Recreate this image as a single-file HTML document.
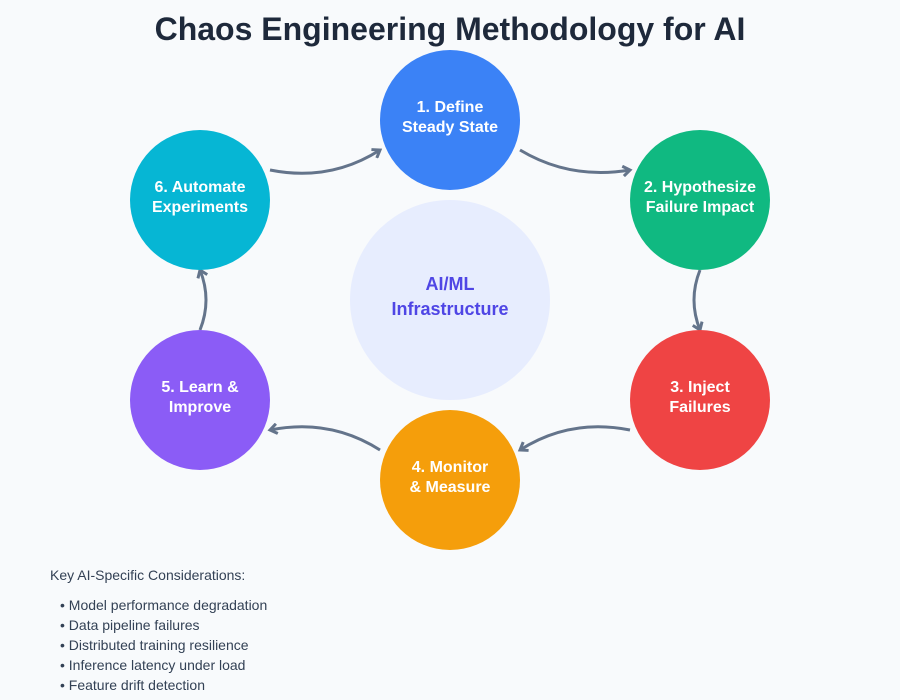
<!DOCTYPE html>
<html><head><meta charset="utf-8"><style>
html,body{margin:0;padding:0;}
body{width:900px;height:700px;background:#f8fafc;overflow:hidden;position:relative;font-family:"Liberation Sans",sans-serif;}
</style></head><body>
<svg width="900" height="700" viewBox="0 0 900 700" xmlns="http://www.w3.org/2000/svg" style="position:absolute;left:0;top:0">
<defs>
<marker id="a" viewBox="0 0 12 12" refX="9" refY="6" markerWidth="12" markerHeight="12" markerUnits="userSpaceOnUse" orient="auto">
<polyline points="2,1 9,6 2,11" fill="none" stroke="#64748b" stroke-width="3"/>
</marker>
</defs>
<text x="450" y="40" text-anchor="middle" font-size="32" font-weight="bold" fill="#1e293b">Chaos Engineering Methodology for AI</text>
<circle cx="450" cy="300" r="100" fill="#e0e7ff" opacity="0.7"/>
<text x="450" y="290" text-anchor="middle" font-size="18" font-weight="bold" fill="#4f46e5">AI/ML</text>
<text x="450" y="315" text-anchor="middle" font-size="18" font-weight="bold" fill="#4f46e5">Infrastructure</text>
<g fill="none" stroke="#64748b" stroke-width="3" marker-end="url(#a)">
<path d="M270,170 Q330,182 380,150"/>
<path d="M520,150 Q570,180 630,170"/>
<path d="M700,270 Q688,300 700,330"/>
<path d="M630,430 Q570,418 520,450"/>
<path d="M380,450 Q330,418 270,430"/>
<path d="M200,330 Q212,300 200,270"/>
</g>
<g font-size="16" font-weight="bold" fill="#fff" text-anchor="middle">
<circle cx="450" cy="120" r="70" fill="#3b82f6"/>
<text x="450" y="112">1. Define</text><text x="450" y="132">Steady State</text>
<circle cx="700" cy="200" r="70" fill="#10b981"/>
<text x="700" y="192">2. Hypothesize</text><text x="700" y="212">Failure Impact</text>
<circle cx="700" cy="400" r="70" fill="#ef4444"/>
<text x="700" y="392">3. Inject</text><text x="700" y="412">Failures</text>
<circle cx="450" cy="480" r="70" fill="#f59e0b"/>
<text x="450" y="472">4. Monitor</text><text x="450" y="492">&amp; Measure</text>
<circle cx="200" cy="400" r="70" fill="#8b5cf6"/>
<text x="200" y="392">5. Learn &amp;</text><text x="200" y="412">Improve</text>
<circle cx="200" cy="200" r="70" fill="#06b6d4"/>
<text x="200" y="192">6. Automate</text><text x="200" y="212">Experiments</text>
</g>
<g font-size="14" fill="#334155">
<text x="50" y="580">Key AI-Specific Considerations:</text>
<text x="60" y="610">• Model performance degradation</text>
<text x="60" y="630">• Data pipeline failures</text>
<text x="60" y="650">• Distributed training resilience</text>
<text x="60" y="670">• Inference latency under load</text>
<text x="60" y="690">• Feature drift detection</text>
<text x="60" y="710">• Model bias and fairness</text>
</g>
</svg>
</body></html>
